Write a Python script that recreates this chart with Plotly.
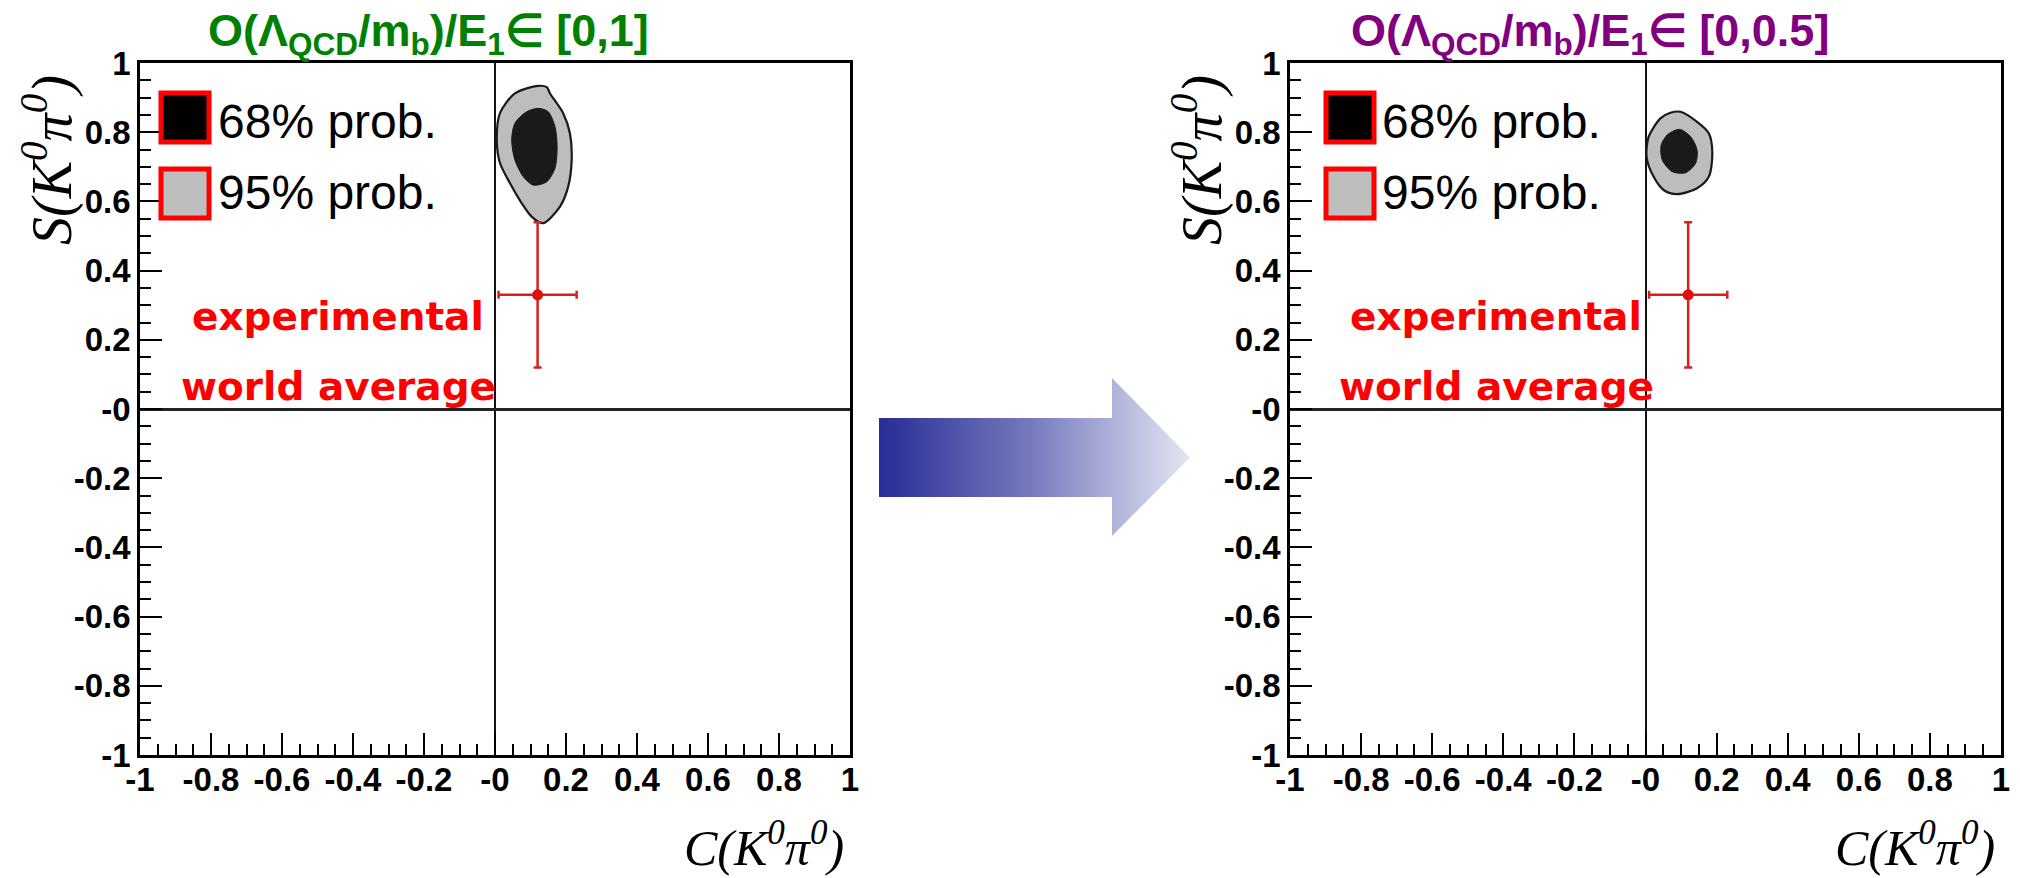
import plotly.graph_objects as go

W, H = 2020, 878

# ---------------- data ----------------
# experimental world average  C(K0 pi0), S(K0 pi0)
exp_C = [0.12]
exp_C_err = [0.11]
exp_S = [0.33]
exp_S_err = [0.21]

# left panel: O(Lambda/mb)/E1 in [0,1]
left95_C = [0.122, 0.146, 0.155, 0.192, 0.211, 0.216, 0.206, 0.183, 0.136, 0.103, 0.075, 0.042, 0.014, 0.005, 0.014, 0.056, 0.122]
left95_S = [0.934, 0.930, 0.912, 0.855, 0.797, 0.720, 0.642, 0.585, 0.537, 0.556, 0.595, 0.653, 0.711, 0.777, 0.855, 0.912, 0.934]
left68_C = [0.122, 0.150, 0.169, 0.175, 0.169, 0.146, 0.108, 0.080, 0.056, 0.047, 0.056, 0.089, 0.122]
left68_S = [0.869, 0.859, 0.816, 0.758, 0.696, 0.657, 0.647, 0.671, 0.720, 0.777, 0.826, 0.859, 0.869]

# right panel: O(Lambda/mb)/E1 in [0,0.5]
right95_C = [0.098, 0.145, 0.178, 0.188, 0.178, 0.145, 0.089, 0.051, 0.023, 0.003, 0.009, 0.042, 0.070, 0.098]
right95_S = [0.859, 0.830, 0.797, 0.739, 0.671, 0.638, 0.621, 0.633, 0.671, 0.729, 0.787, 0.840, 0.856, 0.859]
right68_C = [0.098, 0.127, 0.145, 0.141, 0.113, 0.075, 0.047, 0.044, 0.061, 0.080, 0.098]
right68_S = [0.808, 0.787, 0.749, 0.710, 0.683, 0.686, 0.720, 0.763, 0.792, 0.804, 0.808]

tick_vals = [-1, -0.8, -0.6, -0.4, -0.2, 0, 0.2, 0.4, 0.6, 0.8, 1]
tick_text = ["-1", "-0.8", "-0.6", "-0.4", "-0.2", "-0", "0.2", "0.4", "0.6", "0.8", "1"]

titles = ["O(Λ<sub>QCD</sub>/m<sub>b</sub>)/E<sub>1</sub>∈ [0,1]",
          "O(Λ<sub>QCD</sub>/m<sub>b</sub>)/E<sub>1</sub>∈ [0,0.5]"]
title_colors = ["#008000", "#800080"]

# decorative arrow outline (pixel units of its own small axis)
arrow_x = [879, 1112, 1112, 1190, 1112, 1112, 879, 879]
arrow_y = [418, 418, 378, 457.5, 536, 497, 497, 418]

# ---------------- layout helpers ----------------
def px(x):
    return x / W

def py(y):
    return 1 - y / H

panels = [
    dict(x0=140, x1=850, xa="x", ya="y",
         c95=(left95_C, left95_S), c68=(left68_C, left68_S),
         box_x=(161, 209), text_x=216, exp_cx=338, title_cx=428,
         ylab_x=48),
    dict(x0=1290, x1=2001, xa="x2", ya="y2",
         c95=(right95_C, right95_S), c68=(right68_C, right68_S),
         box_x=(1326, 1374), text_x=1380, exp_cx=1496, title_cx=1590,
         ylab_x=1198),
]
y_top, y_bot = 63, 755

fig = go.Figure()
shapes = []
annotations = []

for i, p in enumerate(panels):
    # 95% region
    fig.add_trace(go.Scatter(
        x=p["c95"][0], y=p["c95"][1], xaxis=p["xa"], yaxis=p["ya"],
        mode="lines", fill="toself", fillcolor="#bdbdbd",
        line=dict(color="#1a1a1a", width=2.2, shape="spline", smoothing=0.8),
        showlegend=False, hoverinfo="skip"))
    # 68% region
    fig.add_trace(go.Scatter(
        x=p["c68"][0], y=p["c68"][1], xaxis=p["xa"], yaxis=p["ya"],
        mode="lines", fill="toself", fillcolor="#1a1a1a",
        line=dict(color="#1a1a1a", width=1, shape="spline", smoothing=0.8),
        showlegend=False, hoverinfo="skip"))
    # experimental point
    fig.add_trace(go.Scatter(
        x=exp_C, y=exp_S, xaxis=p["xa"], yaxis=p["ya"], mode="markers",
        marker=dict(color="#e01010", size=11),
        error_x=dict(type="data", array=exp_C_err, color="#d42020", thickness=2.5, width=4),
        error_y=dict(type="data", array=exp_S_err, color="#d42020", thickness=2.5, width=4),
        showlegend=False, hoverinfo="skip"))

    # legend boxes
    bx0, bx1 = p["box_x"]
    for (yy0, yy1, fc) in [(93, 142, "#000000"), (169, 218, "#bebebe")]:
        shapes.append(dict(type="rect", xref="paper", yref="paper",
                           x0=px(bx0), x1=px(bx1), y0=py(yy1), y1=py(yy0),
                           fillcolor=fc, line=dict(color="#ff0000", width=5),
                           layer="above"))
    annotations.append(dict(text="68% prob.", x=px(p["text_x"]), y=py(122),
                            xref="paper", yref="paper", xanchor="left", yanchor="middle",
                            showarrow=False,
                            font=dict(family="Liberation Sans, Arial", size=48, color="black")))
    annotations.append(dict(text="95% prob.", x=px(p["text_x"]), y=py(193),
                            xref="paper", yref="paper", xanchor="left", yanchor="middle",
                            showarrow=False,
                            font=dict(family="Liberation Sans, Arial", size=48, color="black")))
    # experimental world average text
    annotations.append(dict(text="experimental", x=px(p["exp_cx"]), y=py(316),
                            xref="paper", yref="paper", xanchor="center", yanchor="middle",
                            showarrow=False,
                            font=dict(family="DejaVu Sans", size=39, color="#ff0000", weight="bold")))
    annotations.append(dict(text="world average", x=px(p["exp_cx"]), y=py(386),
                            xref="paper", yref="paper", xanchor="center", yanchor="middle",
                            showarrow=False,
                            font=dict(family="DejaVu Sans", size=39, color="#ff0000", weight="bold")))
    # titles
    annotations.append(dict(text=titles[i], x=px(p["title_cx"]), y=py(33),
                            xref="paper", yref="paper", xanchor="center", yanchor="middle",
                            showarrow=False,
                            font=dict(family="Liberation Sans, Arial", size=45,
                                      color=title_colors[i], weight="bold")))
    # axis labels
    annotations.append(dict(text="<i>S(K<sup>0</sup>π<sup>0</sup>)</i>", x=px(p["ylab_x"]), y=py(160),
                            xref="paper", yref="paper", xanchor="center", yanchor="middle",
                            textangle=-90, showarrow=False,
                            font=dict(family="Liberation Serif", size=56, color="black")))
    annotations.append(dict(text="<i>C(K<sup>0</sup>π<sup>0</sup>)</i>", x=px(p["x1"] - 4), y=py(844),
                            xref="paper", yref="paper", xanchor="right", yanchor="middle",
                            showarrow=False,
                            font=dict(family="Liberation Serif", size=50, color="black")))

# arrow with gradient
fig.add_trace(go.Scatter(
    x=arrow_x, y=arrow_y, xaxis="x3", yaxis="y3", mode="lines",
    fill="toself", line=dict(width=0, color="rgba(0,0,0,0)"),
    fillgradient=dict(type="horizontal",
                      colorscale=[[0, "rgb(40,44,150)"], [0.5, "rgb(120,124,190)"],
                                  [1, "rgb(228,230,243)"]]),
    showlegend=False, hoverinfo="skip"))

tickfont = dict(family="Liberation Sans, Arial", size=33, color="black", weight="bold")

def axis_common():
    return dict(range=[-1, 1], tickmode="array", tickvals=tick_vals, ticktext=tick_text,
                ticks="inside", ticklen=22, tickwidth=2, tickcolor="black",
                minor=dict(tickmode="linear", tick0=-1, dtick=0.05, ticks="inside",
                           ticklen=11, tickwidth=2, tickcolor="black", showgrid=False),
                showgrid=False, showline=True, linewidth=2.5, linecolor="black", mirror=True,
                tickfont=tickfont, fixedrange=True, automargin=False)

ydom = [py(y_bot), py(y_top)]
layout = dict(
    width=W, height=H, margin=dict(l=0, r=0, t=0, b=0, pad=0, autoexpand=False),
    paper_bgcolor="white", plot_bgcolor="rgba(0,0,0,0)",
    shapes=shapes, annotations=annotations, showlegend=False,
)
for i, p in enumerate(panels):
    xk = "xaxis" if i == 0 else "xaxis2"
    yk = "yaxis" if i == 0 else "yaxis2"
    xa = axis_common()
    xa.update(domain=[px(p["x0"]), px(p["x1"])], anchor=p["ya"],
              zeroline=True, zerolinecolor="#111111", zerolinewidth=1.8,
              ticklabelstandoff=-6)
    ya = axis_common()
    ya.update(domain=ydom, anchor=p["xa"],
              zeroline=True, zerolinecolor="#222222", zerolinewidth=2.8)
    layout[xk] = xa
    layout[yk] = ya

layout["xaxis3"] = dict(domain=[px(860), px(1210)], range=[860, 1210], visible=False,
                        anchor="y3", fixedrange=True, automargin=False)
layout["yaxis3"] = dict(domain=[py(560), py(360)], range=[560, 360], visible=False,
                        anchor="x3", fixedrange=True, automargin=False)

fig.update_layout(**layout)
fig.write_html("out.html", config={"displayModeBar": False},
               post_script="document.body.style.margin='0';document.body.style.overflow='hidden';")
